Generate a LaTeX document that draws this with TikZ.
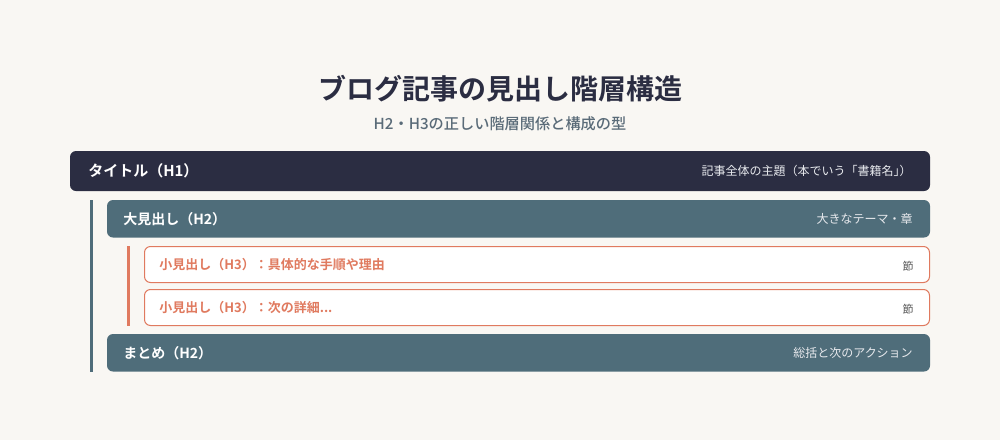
\documentclass[tikz,border=0pt]{standalone}
\usepackage{fontspec}
\newfontfamily\jp{Noto Sans CJK JP}
\newfontfamily\jpb{Noto Sans CJK JP Bold}
\newfontfamily\jpm{Noto Sans CJK JP Medium}
\definecolor{bg}{HTML}{F9F7F3}
\definecolor{navy}{HTML}{2B2D42}
\definecolor{slate}{HTML}{4F6D7A}
\definecolor{coral}{HTML}{E07A5F}
\definecolor{subgray}{HTML}{5A6B78}
\definecolor{notegray}{HTML}{555555}
\definecolor{lightnote}{HTML}{E8EAEE}
\tikzset{
  lbl/.style={anchor=west, inner sep=0pt, text=white, font=\jpb},
  note/.style={anchor=east, inner sep=0pt, text=lightnote, font=\jp\fontsize{9}{11}\selectfont},
  hthree/.style={draw=coral, line width=0.75pt, fill=white, rounded corners=4.5pt},
  rail/.style={line width=2.25pt},
}
\begin{document}
\begin{tikzpicture}[x=0.75pt,y=-0.75pt]
\useasboundingbox[fill=bg] (0,0) rectangle (1000,440);
% title
\node (title) [inner sep=0pt, text=navy, font=\jpb\fontsize{21}{25}\selectfont] at (500,89) {ブログ記事の見出し階層構造};
\node (sub) [inner sep=0pt, text=subgray, font=\jpm\fontsize{11.4}{14}\selectfont] at (500,124) {H2・H3の正しい階層関係と構成の型};
% rails
\draw[rail, draw=slate] (91.5,200) coordinate (r1a) -- (91.5,372) coordinate (r1b);
\draw[rail, draw=coral] (128.5,246) coordinate (r2a) -- (128.5,326) coordinate (r2b);
% H1
\fill[navy, rounded corners=4.5pt] (70,151) rectangle (930,191);
\node (h1) [lbl, font=\jpb\fontsize{11.25}{14}\selectfont] at (88,171) {タイトル（H1）};
\node (h1n) [note] at (912,171) {記事全体の主題（本でいう「書籍名」\kern-0.5em）};
% H2
\fill[slate, rounded corners=4.5pt] (107,200) rectangle (930,237.5);
\node (h2) [lbl, font=\jpb\fontsize{10.5}{13}\selectfont] at (123,219) {大見出し（H2）};
\node (h2n) [note] at (913,219) {大きなテーマ・章};
% H3 boxes
\draw[hthree] (144.5,246.5) rectangle (929.5,282.5);
\node (h3a) [lbl, text=coral, font=\jpb\fontsize{9.75}{12}\selectfont] at (159,265) {小見出し（H3）：具体的な手順や理由};
\node (h3an) [note, text=notegray, font=\jp\fontsize{8.25}{10}\selectfont] at (914,266) {節};
\draw[hthree] (144.5,289.5) rectangle (929.5,325.5);
\node (h3b) [lbl, text=coral, font=\jpb\fontsize{9.75}{12}\selectfont] at (159,308) {小見出し（H3）：次の詳細...};
\node (h3bn) [note, text=notegray, font=\jp\fontsize{8.25}{10}\selectfont] at (914,309) {節};
% matome
\fill[slate, rounded corners=4.5pt] (107,334) rectangle (930,371.5);
\node (h2b) [lbl, font=\jpb\fontsize{10.5}{13}\selectfont] at (123,353) {まとめ（H2）};
\node (h2bn) [note] at (913,353) {総括と次のアクション};
\end{tikzpicture}
\end{document}
